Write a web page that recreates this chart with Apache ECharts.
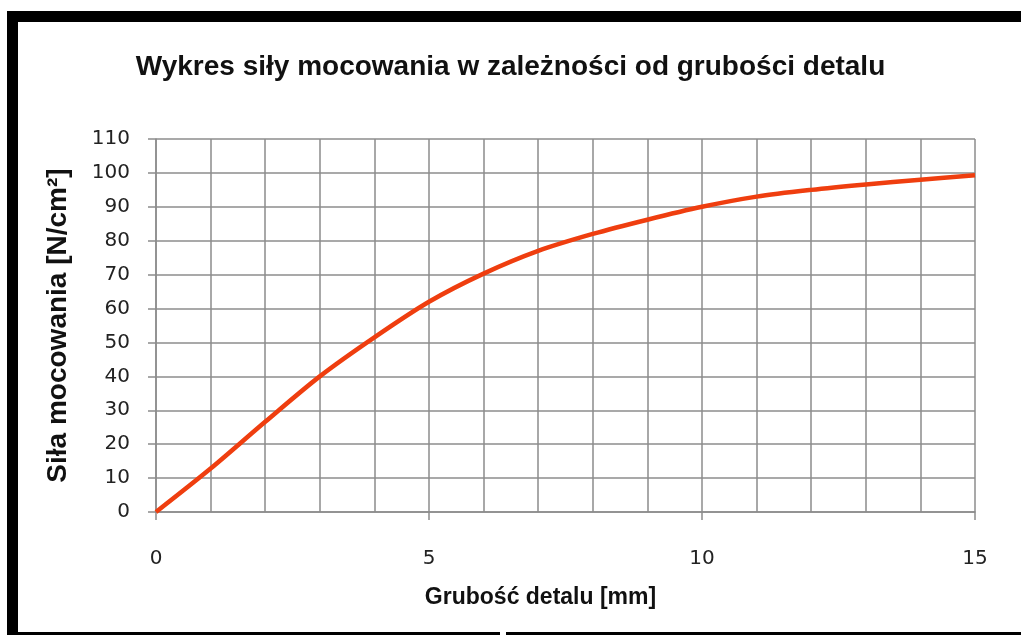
<!DOCTYPE html>
<html>
<head>
<meta charset="utf-8">
<script src="https://cdn.jsdelivr.net/npm/echarts@6/dist/echarts.min.js"></script>
<style>
html,body{margin:0;padding:0;background:#fff;}
#chart{width:1021px;height:635px;}
</style>
</head>
<body>
<div id="chart"></div>
<script>
const titleText = 'Wykres siły mocowania w zależności od grubości detalu';
const xAxisName = 'Grubość detalu [mm]';
const yAxisName = 'Siła mocowania [N/cm²]';
const thickness = [0, 1, 2, 3, 4, 5, 6, 7, 8, 9, 10, 11, 12, 13, 14, 15];
const force = [0, 12.8, 26.6, 40, 51.5, 62, 70.3, 77, 82, 86.2, 90, 93, 95, 96.6, 98, 99.3];

const chart = echarts.init(document.getElementById('chart'), null, {renderer: 'canvas'});
const gridColor = '#8c8c8c';
const labelFont = 'DejaVu Sans';
chart.setOption({
  backgroundColor: '#ffffff',
  animation: false,
  title: {
    text: titleText,
    left: 'center',
    top: 48,
    textStyle: {
      fontFamily: 'Liberation Sans',
      fontWeight: 'bold',
      fontSize: 28,
      color: '#111'
    }
  },
  graphic: [
    {type: 'rect', shape: {x: 7, y: 11, width: 1014, height: 11}, style: {fill: '#000'}},
    {type: 'rect', shape: {x: 7, y: 11, width: 11, height: 624}, style: {fill: '#000'}},
    {type: 'rect', shape: {x: 7, y: 632, width: 493, height: 3}, style: {fill: '#000'}},
    {type: 'rect', shape: {x: 506, y: 632, width: 515, height: 3}, style: {fill: '#000'}}
  ],
  grid: {left: 156, right: 46, top: 139, bottom: 123, containLabel: false},
  xAxis: {
    type: 'value',
    min: 0, max: 15, interval: 5,
    name: xAxisName,
    nameLocation: 'middle',
    nameGap: 74,
    nameTextStyle: {fontFamily: 'Liberation Sans', fontWeight: 'bold', fontSize: 23, color: '#111', padding: [0, 50, 0, 0]},
    axisLine: {show: true, lineStyle: {color: gridColor, width: 1.5}},
    axisTick: {show: true, length: 8, lineStyle: {color: gridColor, width: 1.5}},
    minorTick: {show: false, splitNumber: 5},
    axisLabel: {margin: 37, fontFamily: labelFont, fontSize: 20, color: '#222'},
    splitLine: {show: true, lineStyle: {color: gridColor, width: 1.5}},
    minorSplitLine: {show: true, lineStyle: {color: gridColor, width: 1.5}}
  },
  yAxis: {
    type: 'value',
    min: 0, max: 110, interval: 10,
    name: yAxisName,
    nameLocation: 'middle',
    nameGap: 84,
    nameRotate: 90,
    nameTextStyle: {fontFamily: 'Liberation Sans', fontWeight: 'bold', fontSize: 28, color: '#111'},
    axisLine: {show: true, lineStyle: {color: gridColor, width: 1.5}},
    axisTick: {show: true, length: 8, lineStyle: {color: gridColor, width: 1.5}},
    axisLabel: {margin: 26, fontFamily: labelFont, fontSize: 20, color: '#222'},
    splitLine: {show: true, lineStyle: {color: gridColor, width: 1.5}}
  },
  series: [{
    type: 'line',
    data: thickness.map((x, i) => [x, force[i]]),
    smooth: 0.3,
    showSymbol: false,
    lineStyle: {color: '#ef3e0f', width: 4.5},
    itemStyle: {color: '#ef3e0f'}
  }]
});
</script>
</body>
</html>
